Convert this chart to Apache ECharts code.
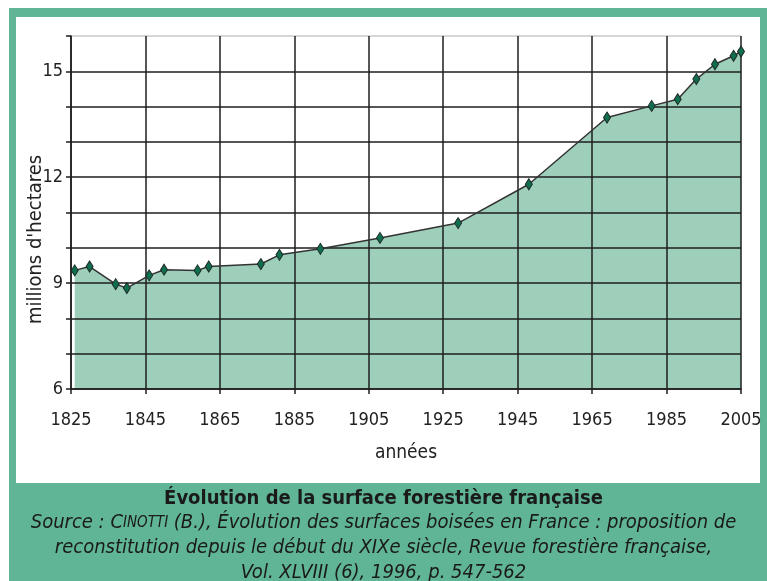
<!DOCTYPE html>
<html>
<head>
<meta charset="utf-8">
<script src="https://cdn.jsdelivr.net/npm/echarts@6/dist/echarts.min.js"></script>
<style>
  html, body { margin: 0; padding: 0; background: #fff; }
  #chart { width: 767px; height: 581px; }
</style>
</head>
<body>
<div id="chart"></div>
<script>
// surface forestière, millions d'hectares
var annees = [1826, 1830, 1837, 1840, 1846, 1850, 1859, 1862, 1876, 1881, 1892,
              1908, 1929, 1948, 1969, 1981, 1988, 1993, 1998, 2003, 2005];
var surfaces = [9.36, 9.47, 8.97, 8.86, 9.22, 9.38, 9.36, 9.47, 9.54, 9.80, 9.97,
                10.28, 10.70, 11.80, 13.69, 14.02, 14.21, 14.78, 15.20, 15.44, 15.56];
var yLabels = [6, 9, 12, 15];

var points = annees.map(function (a, i) { return [a, surfaces[i]]; });

var font = "'Liberation Sans Narrow', 'DejaVu Sans Condensed', 'Open Sans'";
var gridColors = ['#1e1e1e', '#1e1e1e', '#1e1e1e', '#1e1e1e', '#1e1e1e', '#1e1e1e',
                  '#1e1e1e', '#1e1e1e', '#1e1e1e', '#1e1e1e', '#c8c8c8'];

var chart = echarts.init(document.getElementById('chart'));
chart.setOption({
  animation: false,
  backgroundColor: '#fff',
  graphic: [
    { type: 'rect', z: -10, shape: { x: 9, y: 8, width: 767, height: 581 }, style: { fill: '#5fb596' } },
    { type: 'rect', z: -9, shape: { x: 16, y: 17, width: 744, height: 466 }, style: { fill: '#fff' } },
    {
      type: 'text', left: 'center', top: 489,
      style: { text: 'Évolution de la surface forestière française', fontFamily: font,
               fontSize: 20, fontWeight: 'bold', fill: '#1a1a1a' }
    },
    {
      type: 'text', left: 'center', top: 513,
      style: {
        text: '{i|Source : }{c|C}{s|INOTTI}{i| (B.), Évolution des surfaces boisées en France : proposition de}',
        rich: {
          i: { fontFamily: font, fontSize: 20, fontStyle: 'italic', fill: '#1a1a1a' },
          c: { fontFamily: font, fontSize: 20, fontStyle: 'italic', fill: '#1a1a1a' },
          s: { fontFamily: font, fontSize: 15, fontStyle: 'italic', fill: '#1a1a1a' }
        }
      }
    },
    {
      type: 'text', left: 'center', top: 538,
      style: { text: 'reconstitution depuis le début du XIXe siècle, Revue forestière française,',
               fontFamily: font, fontSize: 20, fontStyle: 'italic', fill: '#1a1a1a' }
    },
    {
      type: 'text', left: 'center', top: 563,
      style: { text: 'Vol. XLVIII (6), 1996, p. 547-562',
               fontFamily: font, fontSize: 20, fontStyle: 'italic', fill: '#1a1a1a' }
    }
  ],
  grid: { left: 71, right: 26, top: 36, bottom: 192 },
  xAxis: {
    type: 'value', min: 1825, max: 2005, interval: 20, z: 3,
    name: 'années', nameLocation: 'middle', nameGap: 55,
    nameTextStyle: { fontFamily: font, fontSize: 19, color: '#222' },
    axisLine: { lineStyle: { color: '#1e1e1e', width: 1.5 } },
    axisTick: { length: 5, lineStyle: { color: '#1e1e1e', width: 1.5 } },
    axisLabel: { fontFamily: font, fontSize: 18, color: '#222', margin: 22,
                 formatter: function (v) { return String(v); } },
    splitLine: { show: true, lineStyle: { color: '#1e1e1e', width: 1.5 } }
  },
  yAxis: {
    type: 'value', min: 6, max: 16, interval: 1, z: 3,
    name: "millions d'hectares", nameLocation: 'middle', nameGap: 25,
    nameMoveOverlap: false,
    nameTextStyle: { fontFamily: font, fontSize: 20, color: '#222', padding: [0, 54, 0, 0] },
    axisLine: { show: true, lineStyle: { color: '#1e1e1e', width: 1.5 } },
    axisTick: { show: true, length: 5, lineStyle: { color: '#1e1e1e', width: 1.5 } },
    axisLabel: {
      fontFamily: font, fontSize: 18, color: '#222', margin: 8,
      formatter: function (v) { return yLabels.indexOf(v) >= 0 ? String(v) : ''; }
    },
    splitLine: { show: true, lineStyle: { color: gridColors, width: 1.5 } }
  },
  series: [
    {
      type: 'line', data: points, z: 1, silent: true,
      symbol: 'none', lineStyle: { width: 0 },
      areaStyle: { color: '#9dcfba', opacity: 1, origin: 'start' }
    },
    {
      type: 'line', data: points, z: 5,
      symbol: 'diamond', symbolSize: [7, 11],
      itemStyle: { color: '#0f6e4f', borderColor: '#1e2a24', borderWidth: 1 },
      lineStyle: { color: '#333', width: 1.5 }
    }
  ]
});
</script>
</body>
</html>
